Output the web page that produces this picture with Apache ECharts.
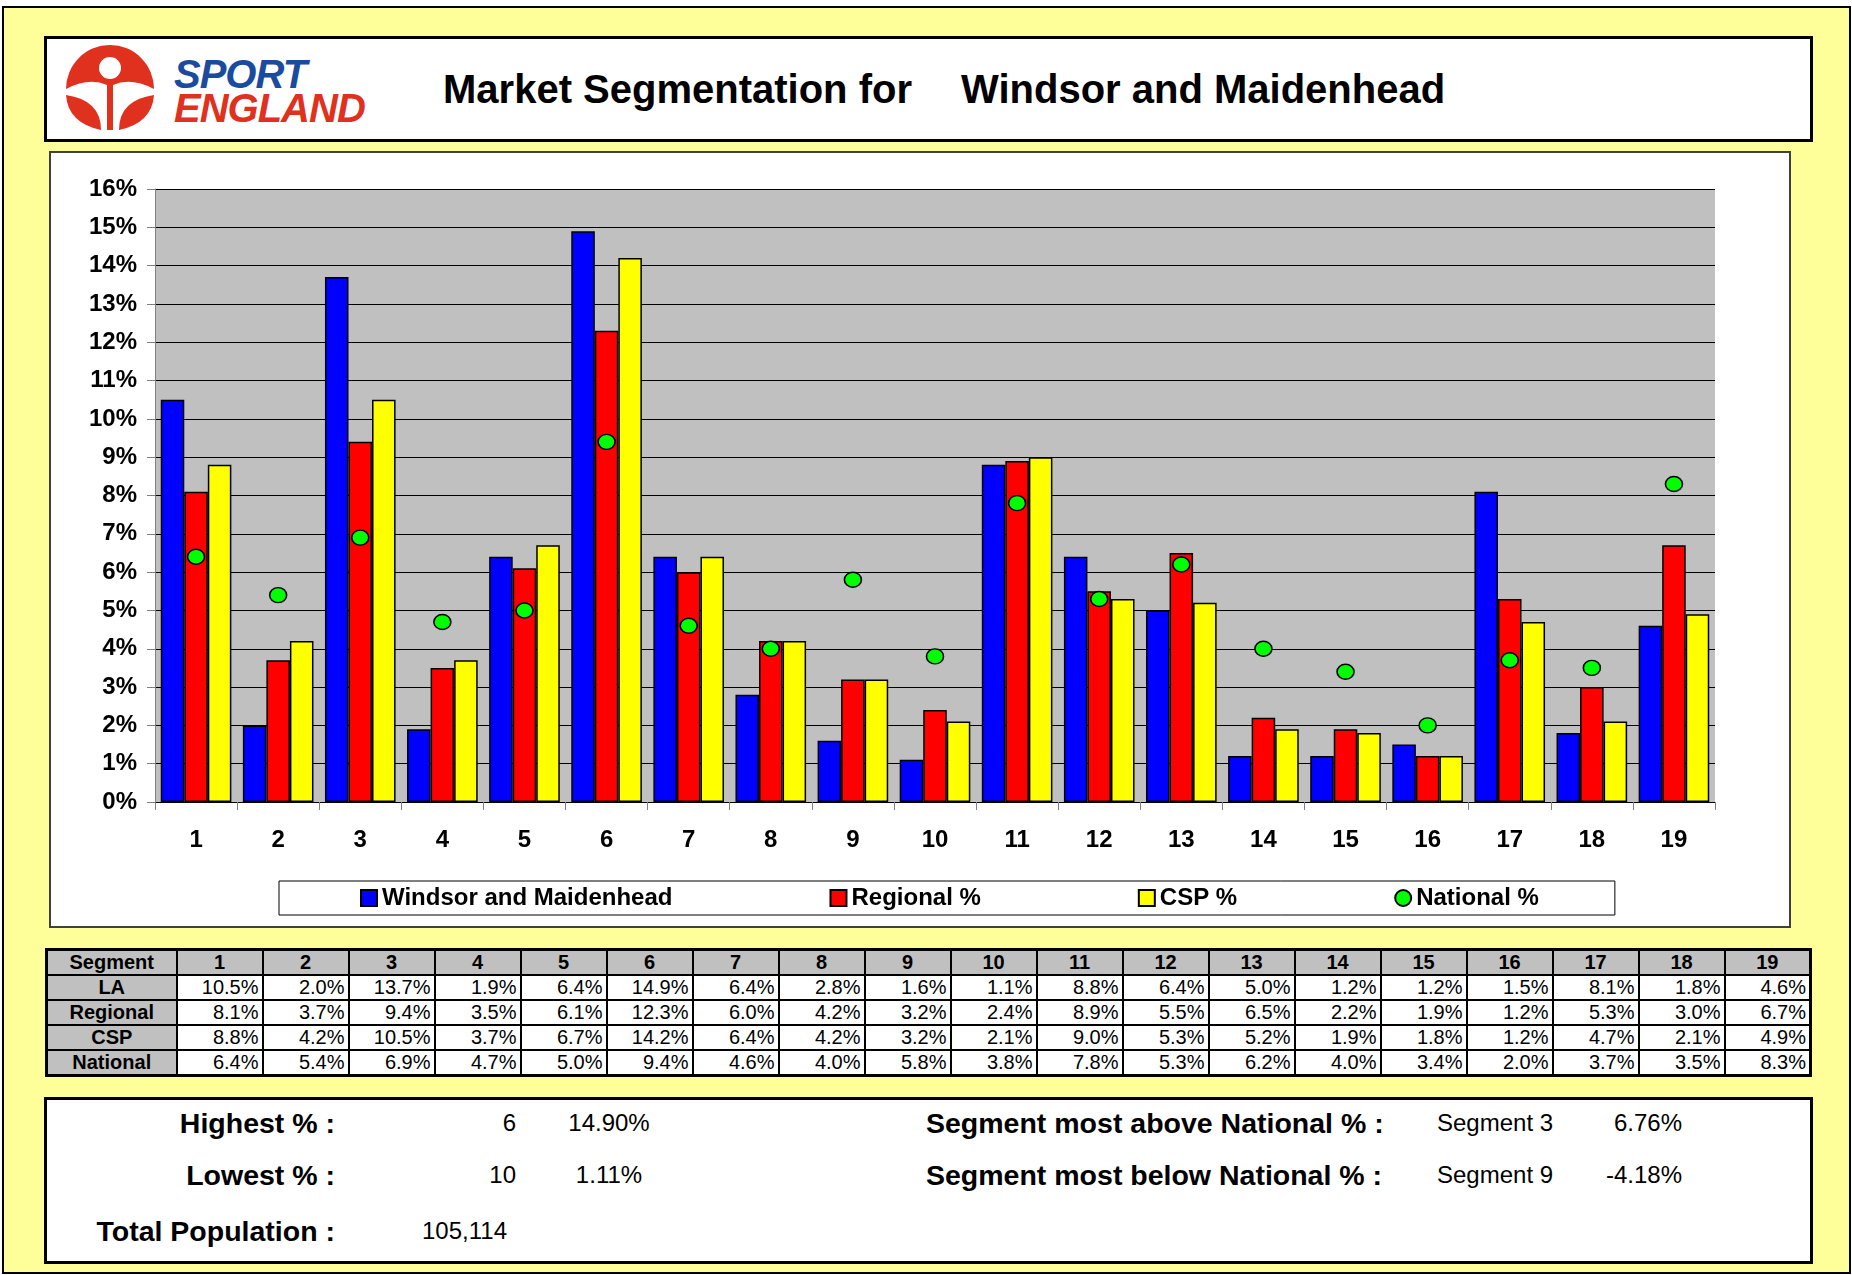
<!DOCTYPE html>
<html>
<head>
<meta charset="utf-8">
<script src="https://cdn.jsdelivr.net/npm/echarts@6/dist/echarts.min.js"></script>
<style>
  html, body { margin: 0; padding: 0; background: #fff; }
  body { width: 1852px; height: 1275px; position: relative; overflow: hidden;
         font-family: "Liberation Sans", Arial, sans-serif; color: #000; }
  .abs { position: absolute; }
  #page { left: 2px; top: 6px; width: 1845px; height: 1264px; background: #FFFF99; border: 2px solid #000; }
  #header { left: 44px; top: 36px; width: 1763px; height: 100px; background: #fff; border: 3px solid #000; }
  #chartBox { left: 49px; top: 151px; width: 1738px; height: 773px; background: #fff; border: 2px solid #404040; }
  #chart { left: 50px; top: 152px; width: 1739px; height: 774px; }
  #tbl { left: 45px; top: 948px; border-collapse: collapse; table-layout: fixed; border: 3px solid #000; background: #fff; }
  #tbl td { border: 2px solid #000; height: 23px; padding: 0 3px 0 0; font-size: 20px; line-height: 23px;
            text-align: right; white-space: nowrap; overflow: hidden; }
  #tbl td.hd { background: #C0C0C0; font-weight: bold; text-align: center; padding: 0; }
  #summary { left: 44px; top: 1097px; width: 1763px; height: 161px; background: #fff; border: 3px solid #000; }
  .t { position: absolute; white-space: nowrap; line-height: 1; }
  .lbl { font-weight: bold; font-size: 28.5px; }
  .val { font-size: 24px; }
</style>
</head>
<body>
<div id="page" class="abs"></div>
<div id="header" class="abs"></div>

<!-- logo -->
<svg class="abs" style="left:60px;top:44px" width="100" height="90" viewBox="60 44 100 90">
  <path d="M66,89 A44,44 0 0,1 154,89 Q131,77 113,85 L113,130 L107,130 L107,85 Q89,77 66,89 Z" fill="#E0301E"/>
  <circle cx="110" cy="68" r="11" fill="#fff"/>
  <path d="M66,95 Q68,123 101,130 Q101,100 66,95 Z" fill="#E0301E"/>
  <path d="M154,95 Q152,123 119,130 Q119,100 154,95 Z" fill="#E0301E"/>
</svg>
<div class="t" style="left:174px;top:54px;font-size:40px;font-weight:900;font-style:italic;color:#1B4B9E;letter-spacing:-1px">SPORT</div>
<div class="t" style="left:174px;top:88px;font-size:40px;font-weight:900;font-style:italic;color:#E0301E;letter-spacing:-1px">ENGLAND</div>

<div class="t" style="left:443px;top:69px;font-size:40px;font-weight:bold">Market Segmentation for</div>
<div class="t" style="left:961px;top:69px;font-size:40px;font-weight:bold">Windsor and Maidenhead</div>

<div id="chartBox" class="abs"></div>
<div id="chart" class="abs"></div>

<table id="tbl" class="abs"></table>

<div id="summary" class="abs"></div>
<div id="summaryText"></div>

<script>
// segments and series values (percent)
const segments = ['1','2','3','4','5','6','7','8','9','10','11','12','13','14','15','16','17','18','19'];
const laValues = [10.5, 2.0, 13.7, 1.9, 6.4, 14.9, 6.4, 2.8, 1.6, 1.1, 8.8, 6.4, 5.0, 1.2, 1.2, 1.5, 8.1, 1.8, 4.6];
const regionalValues = [8.1, 3.7, 9.4, 3.5, 6.1, 12.3, 6.0, 4.2, 3.2, 2.4, 8.9, 5.5, 6.5, 2.2, 1.9, 1.2, 5.3, 3.0, 6.7];
const cspValues = [8.8, 4.2, 10.5, 3.7, 6.7, 14.2, 6.4, 4.2, 3.2, 2.1, 9.0, 5.3, 5.2, 1.9, 1.8, 1.2, 4.7, 2.1, 4.9];
const nationalValues = [6.4, 5.4, 6.9, 4.7, 5.0, 9.4, 4.6, 4.0, 5.8, 3.8, 7.8, 5.3, 6.2, 4.0, 3.4, 2.0, 3.7, 3.5, 8.3];

const seriesNames = ['Windsor and Maidenhead', 'Regional %', 'CSP %', 'National %'];
const rowLabels = ['LA', 'Regional', 'CSP', 'National'];

// summary figures
const highest = ['6', '14.90%'];
const lowest = ['10', '1.11%'];
const totalPopulation = '105,114';
const mostAbove = ['Segment 3', '6.76%'];
const mostBelow = ['Segment 9', '-4.18%'];

const FONT = '"Liberation Sans", Arial, sans-serif';

// ---- chart ----
const myChart = echarts.init(document.getElementById('chart'));
const barStyle = (c) => ({ color: c, borderColor: '#000', borderWidth: 1.5 });

let option = {
  animation: false,
  textStyle: { fontFamily: FONT },
  grid: {
    left: 105, top: 37, right: 74, bottom: 124,
    show: true, backgroundColor: '#C0C0C0', borderWidth: 0
  },
  legend: {
    left: 229, top: 729,
    itemGap: 157, itemWidth: 16, itemHeight: 16,
    padding: [5, 76, 5, 81],
    borderColor: '#000', borderWidth: 1, backgroundColor: '#fff',
    textStyle: { fontFamily: FONT, fontWeight: 'bold', fontSize: 24, lineHeight: 24, color: '#000' },
    data: [
      { name: seriesNames[0], icon: 'rect' },
      { name: seriesNames[1], icon: 'rect' },
      { name: seriesNames[2], icon: 'rect' },
      { name: seriesNames[3], icon: 'circle' }
    ]
  },
  xAxis: {
    type: 'category',
    data: segments,
    axisLine: { lineStyle: { color: '#000', width: 1 } },
    axisTick: { show: true, length: 8, lineStyle: { color: '#808080' } },
    axisLabel: { fontFamily: FONT, fontWeight: 'bold', fontSize: 24, color: '#000', margin: 26 }
  },
  yAxis: {
    type: 'value',
    min: 0, max: 16, interval: 1,
    axisLine: { show: true, lineStyle: { color: '#808080', width: 1 } },
    axisTick: { show: true, length: 8, lineStyle: { color: '#808080' } },
    axisLabel: { formatter: '{value}%', fontFamily: FONT, fontWeight: 'bold', fontSize: 24, color: '#000', margin: 18 },
    splitLine: { lineStyle: { color: '#000', width: 1 } }
  },
  series: [
    { name: seriesNames[0], type: 'bar', data: laValues, barGap: '0%', barCategoryGap: '14%', itemStyle: barStyle('#0000FF') },
    { name: seriesNames[1], type: 'bar', data: regionalValues, barGap: '0%', barCategoryGap: '14%', itemStyle: barStyle('#FF0000') },
    { name: seriesNames[2], type: 'bar', data: cspValues, barGap: '0%', barCategoryGap: '14%', itemStyle: barStyle('#FFFF00') },
    {
      name: seriesNames[3], type: 'scatter', data: nationalValues, symbol: 'circle', symbolSize: [17, 15], z: 5,
      itemStyle: { color: '#00FF00', borderColor: '#000', borderWidth: 1.5, opacity: 1 }
    }
  ]
};
myChart.setOption(option);

// ---- data table ----
const tbl = document.getElementById('tbl');
let html = '<colgroup><col style="width:130px">' + segments.map(() => '<col style="width:86px">').join('') + '</colgroup>';
html += '<tr><td class="hd">Segment</td>' + segments.map(s => '<td class="hd">' + s + '</td>').join('') + '</tr>';
[laValues, regionalValues, cspValues, nationalValues].forEach((vals, i) => {
  html += '<tr><td class="hd">' + rowLabels[i] + '</td>' + vals.map(v => '<td>' + v.toFixed(1) + '%</td>').join('') + '</tr>';
});
tbl.innerHTML = html;

// ---- summary box ----
const st = document.getElementById('summaryText');
function put(text, cls, x, cy, align) {
  const d = document.createElement('div');
  d.className = 't ' + cls;
  d.textContent = text;
  const size = cls === 'lbl' ? 28.5 : 24;
  d.style.top = (cy - size / 2) + 'px';
  if (align === 'right') { d.style.right = (1852 - x) + 'px'; }
  else if (align === 'center') { d.style.left = (x - 200) + 'px'; d.style.width = '400px'; d.style.textAlign = 'center'; }
  else { d.style.left = x + 'px'; }
  st.appendChild(d);
}
put('Highest % :', 'lbl', 335, 1123, 'right');
put(highest[0], 'val', 516, 1123, 'right');
put(highest[1], 'val', 609, 1123, 'center');
put('Lowest % :', 'lbl', 335, 1175, 'right');
put(lowest[0], 'val', 516, 1175, 'right');
put(lowest[1], 'val', 609, 1175, 'center');
put('Total Population :', 'lbl', 335, 1231, 'right');
put(totalPopulation, 'val', 422, 1231, 'left');
put('Segment most above National % :', 'lbl', 926, 1123, 'left');
put(mostAbove[0], 'val', 1437, 1123, 'left');
put(mostAbove[1], 'val', 1682, 1123, 'right');
put('Segment most below National % :', 'lbl', 926, 1175, 'left');
put(mostBelow[0], 'val', 1437, 1175, 'left');
put(mostBelow[1], 'val', 1682, 1175, 'right');
</script>
</body>
</html>
